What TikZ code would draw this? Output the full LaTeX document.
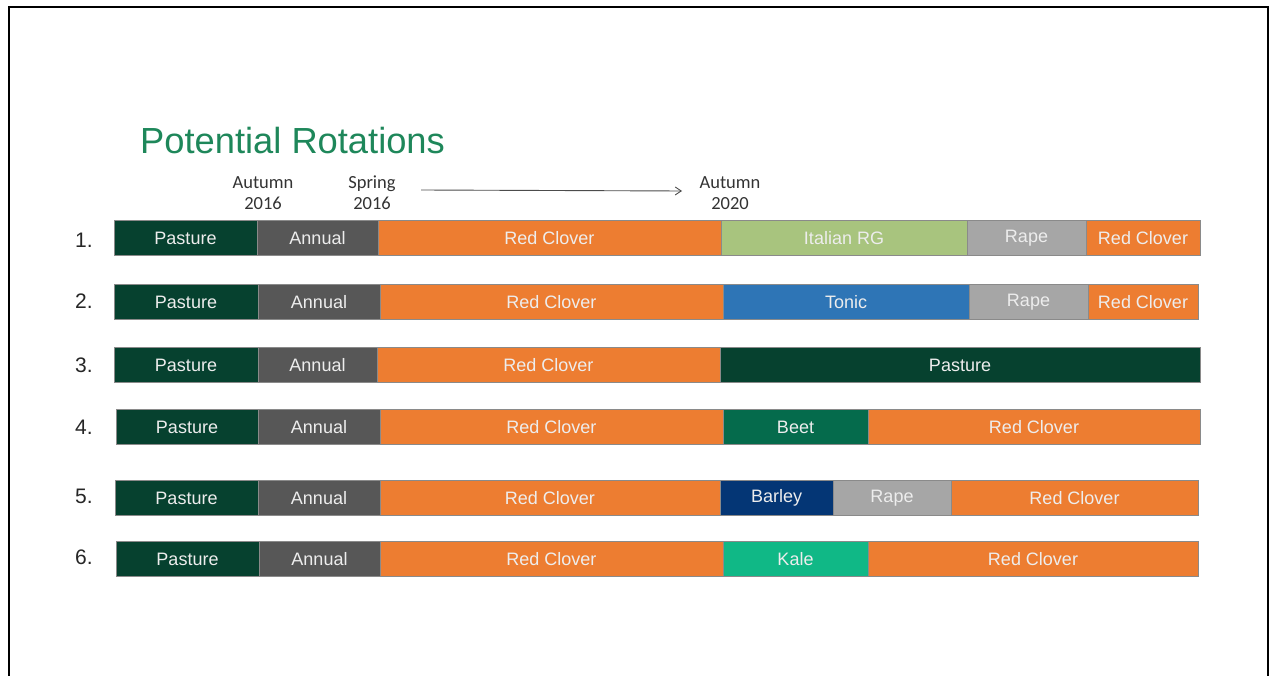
\documentclass[tikz,border=0pt]{standalone}
\usepackage{fontspec}
\setmainfont{Liberation Sans}
\newfontfamily\calfont{Carlito}
\usetikzlibrary{arrows.meta}
\definecolor{cPasture}{HTML}{06412F}
\definecolor{cAnnual}{HTML}{575757}
\definecolor{cClover}{HTML}{ED7D31}
\definecolor{cItalian}{HTML}{A8C47E}
\definecolor{cRape}{HTML}{A6A6A6}
\definecolor{cTonic}{HTML}{2E75B6}
\definecolor{cBeet}{HTML}{056B4C}
\definecolor{cBarley}{HTML}{043675}
\definecolor{cKale}{HTML}{10B886}
\definecolor{cTitle}{HTML}{1E875A}
\definecolor{cEdge}{HTML}{8A8A8A}
\tikzset{
  seg/.style={draw=cEdge, line width=0.9pt, anchor=west, inner sep=0pt, outer sep=0pt,
    minimum height=35pt, text=white!93!black, font=\fontsize{18}{18}\selectfont},
  rownum/.style={font=\fontsize{21}{21}\selectfont, text=black!85},
  datelbl/.style={font=\calfont\fontsize{18.5}{21}\selectfont, align=center, text=black!80},
}
\begin{document}
\begin{tikzpicture}[x=1pt,y=-1pt]
\useasboundingbox (0,0) rectangle (1276,676);
% frame
\draw[line width=2pt] (9,677) -- (9,7) -- (1268,7) -- (1268,677);
% title
\node[anchor=west, text=cTitle, font=\fontsize{36.3}{36}\selectfont, inner sep=0pt] (title) at (140,141) {Potential Rotations};
% date labels
\node[datelbl] (d1) at (263,193) {Autumn\\2016};
\node[datelbl] (d2) at (372,193) {Spring\\2016};
\node[datelbl] (d3) at (730,193) {Autumn\\2020};
\coordinate (arrS) at (421,190);
\coordinate (arrE) at (682,191);
\draw[-{Straight Barb[length=6pt,width=8pt]}, draw=black!70, line width=0.9pt] (arrS) -- (arrE);
% row numbers
\node[rownum] (n1) at (84,240) {1.};
\node[rownum] (n2) at (84,301) {2.};
\node[rownum] (n3) at (84,365) {3.};
\node[rownum] (n4) at (84,427) {4.};
\node[rownum] (n5) at (84,496) {5.};
\node[rownum] (n6) at (84,557) {6.};
% row 1
\node[seg, fill=cPasture, minimum width=143pt] (r1a) at (114,238) {Pasture};
\node[seg, fill=cAnnual, minimum width=121pt] (r1b) at (257,238) {Annual};
\node[seg, fill=cClover, minimum width=343pt] (r1c) at (378,238) {Red Clover};
\node[seg, fill=cItalian, minimum width=246pt] (r1d) at (721,238) {Italian RG};
\node[seg, fill=cRape, minimum width=119pt] (r1e) at (967,238) {Rape};
\node[seg, fill=cClover, minimum width=114pt] (r1f) at (1086,238) {Red Clover};
% row 2
\node[seg, fill=cPasture, minimum width=144pt] (r2a) at (114,302) {Pasture};
\node[seg, fill=cAnnual, minimum width=122pt] (r2b) at (258,302) {Annual};
\node[seg, fill=cClover, minimum width=343pt] (r2c) at (380,302) {Red Clover};
\node[seg, fill=cTonic, minimum width=246pt] (r2d) at (723,302) {Tonic};
\node[seg, fill=cRape, minimum width=119pt] (r2e) at (969,302) {Rape};
\node[seg, fill=cClover, minimum width=110pt] (r2f) at (1088,302) {Red Clover};
% row 3
\node[seg, fill=cPasture, minimum width=144pt] (r3a) at (114,365) {Pasture};
\node[seg, fill=cAnnual, minimum width=119pt] (r3b) at (258,365) {Annual};
\node[seg, fill=cClover, minimum width=343pt] (r3c) at (377,365) {Red Clover};
\node[seg, fill=cPasture, minimum width=480pt] (r3d) at (720,365) {Pasture};
% row 4
\node[seg, fill=cPasture, minimum width=142pt] (r4a) at (116,427) {Pasture};
\node[seg, fill=cAnnual, minimum width=122pt] (r4b) at (258,427) {Annual};
\node[seg, fill=cClover, minimum width=343pt] (r4c) at (380,427) {Red Clover};
\node[seg, fill=cBeet, minimum width=145pt] (r4d) at (723,427) {Beet};
\node[seg, fill=cClover, minimum width=332pt] (r4e) at (868,427) {Red Clover};
% row 5
\node[seg, fill=cPasture, minimum width=143pt] (r5a) at (115,498) {Pasture};
\node[seg, fill=cAnnual, minimum width=122pt] (r5b) at (258,498) {Annual};
\node[seg, fill=cClover, minimum width=340pt] (r5c) at (380,498) {Red Clover};
\node[seg, fill=cBarley, minimum width=113pt] (r5d) at (720,498) {Barley};
\node[seg, fill=cRape, minimum width=118pt] (r5e) at (833,498) {Rape};
\node[seg, fill=cClover, minimum width=247pt] (r5f) at (951,498) {Red Clover};
% row 6
\node[seg, fill=cPasture, minimum width=143pt] (r6a) at (116,559) {Pasture};
\node[seg, fill=cAnnual, minimum width=121pt] (r6b) at (259,559) {Annual};
\node[seg, fill=cClover, minimum width=343pt] (r6c) at (380,559) {Red Clover};
\node[seg, fill=cKale, minimum width=145pt] (r6d) at (723,559) {Kale};
\node[seg, fill=cClover, minimum width=330pt] (r6e) at (868,559) {Red Clover};
\end{tikzpicture}
\end{document}
